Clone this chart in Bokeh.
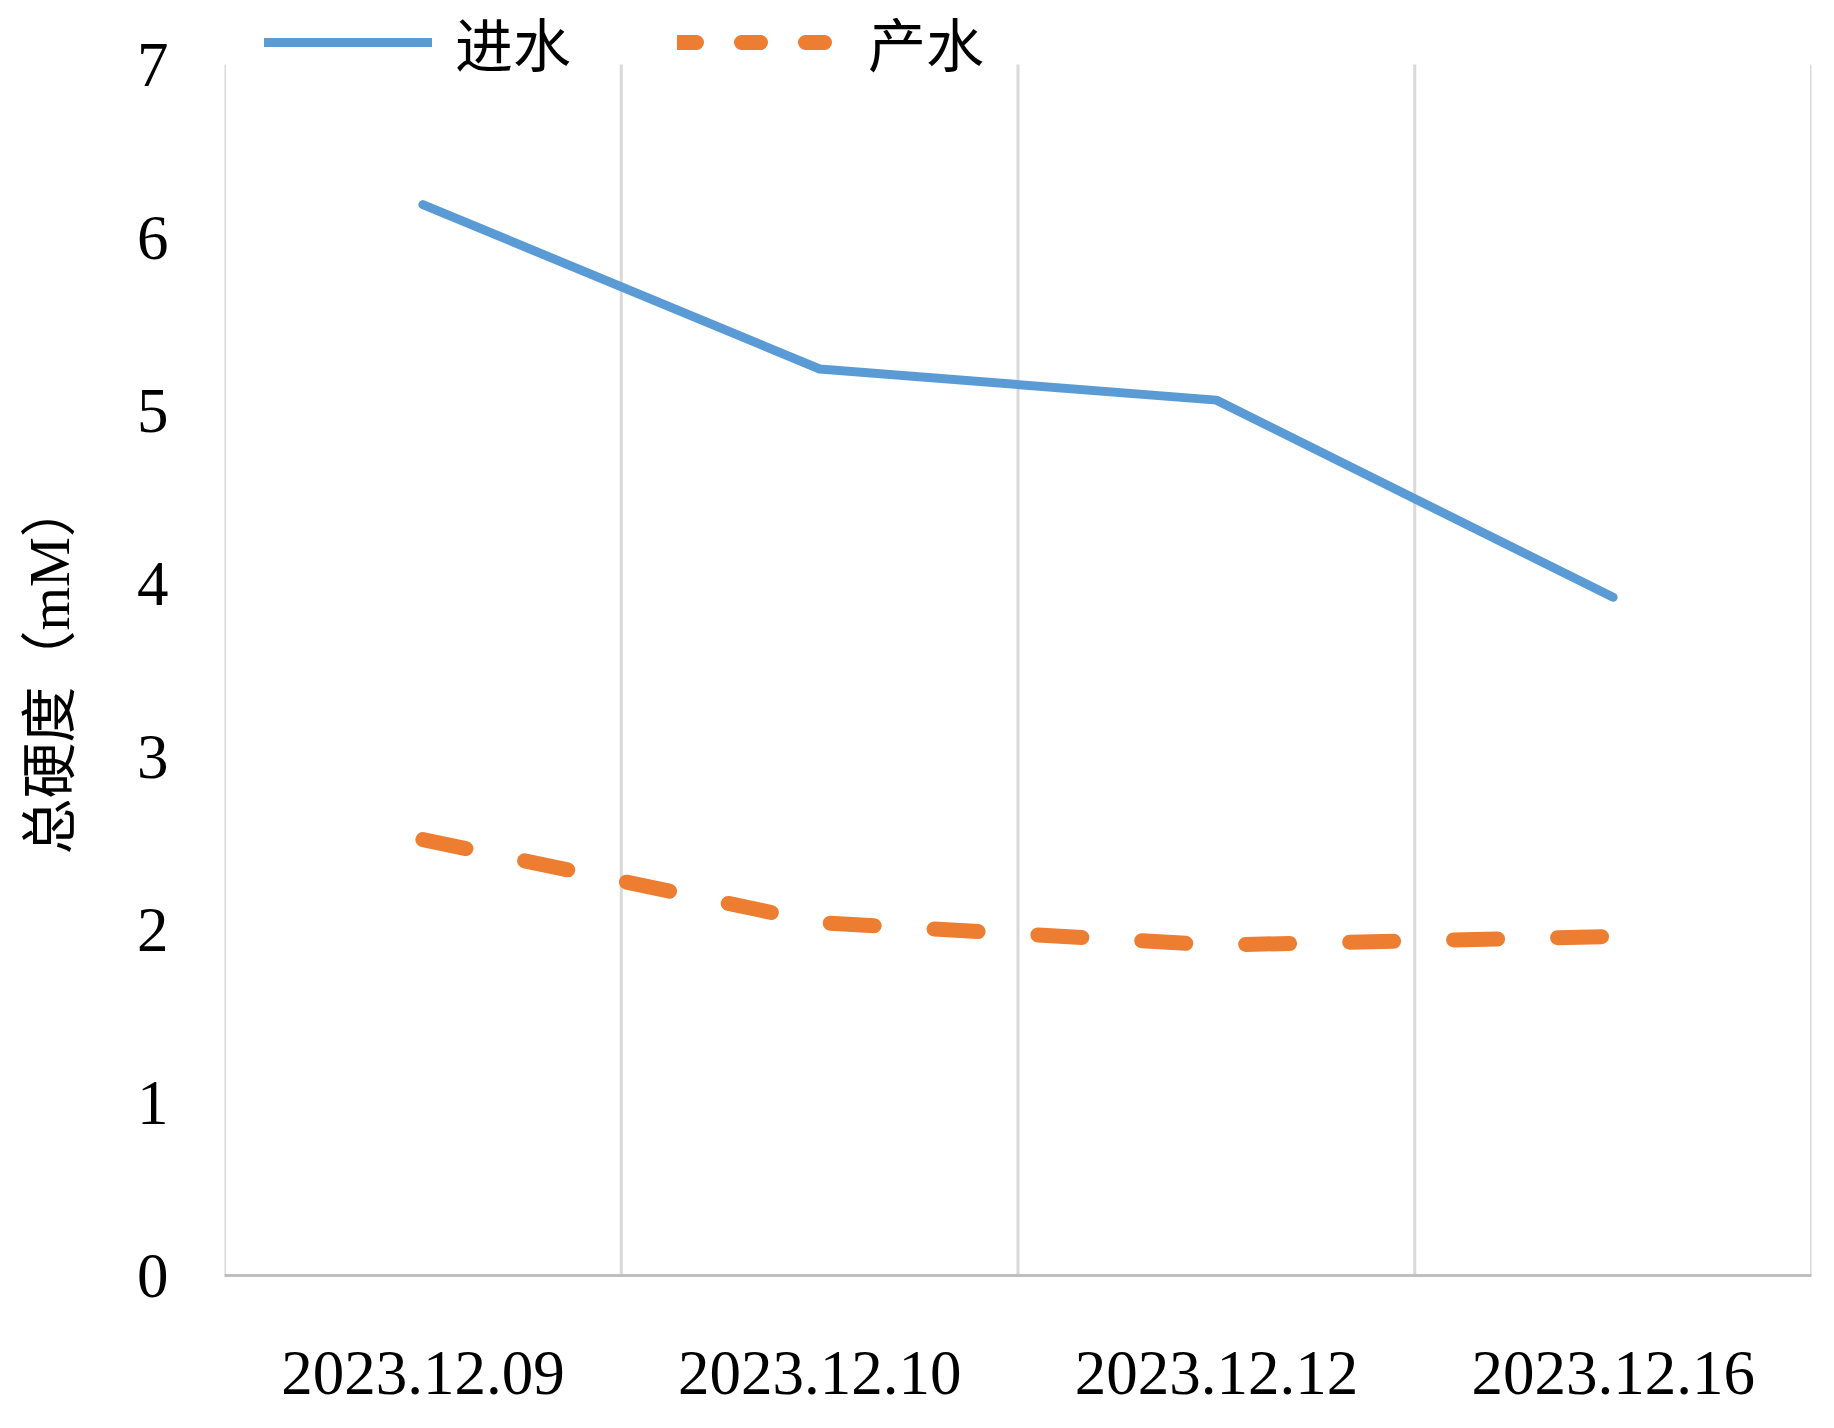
from bokeh.plotting import figure
from bokeh.models import Range1d, FixedTicker, Legend, LegendItem, Title
from bokeh.embed import file_html
from bokeh.resources import INLINE

dates = ["2023.12.09", "2023.12.10", "2023.12.12", "2023.12.16"]
influent = [6.19, 5.24, 5.06, 3.92]
permeate = [2.52, 2.04, 1.91, 1.96]
y_ticks = [0, 1, 2, 3, 4, 5, 6, 7]
series_names = ["进水", "产水"]
y_title = "总硬度（mM）"

n = len(dates)
x = [i + 0.5 for i in range(n)]
bounds = list(range(n + 1))

# frame extends to the top of the figure so the legend can sit above the value 7
FRAME_TOP = 64
FRAME_BOTTOM = 1275
y_end = y_ticks[-1] * FRAME_BOTTOM / (FRAME_BOTTOM - FRAME_TOP)

p = figure(width=1818, height=1412, output_backend="svg", toolbar_location=None,
           x_range=Range1d(0, n), y_range=Range1d(y_ticks[0], y_end),
           min_border_left=224, min_border_right=7, min_border_top=0, min_border_bottom=137)
p.outline_line_color = None
p.background_fill_color = "white"
p.border_fill_color = "white"
p.xgrid.grid_line_color = None
p.ygrid.grid_line_color = None

# category boundary lines
p.segment(x0=bounds, y0=[y_ticks[0]] * len(bounds), x1=bounds, y1=[y_ticks[-1]] * len(bounds),
          line_color="#d9d9d9", line_width=3)

r1 = p.line(x, influent, line_color="#5b9bd5", line_width=9, line_cap="round", line_join="round")
r2 = p.line(x, permeate, line_color="#ed7d31", line_width=15, line_dash="44 60",
            line_cap="round", line_join="round")
# legend-only copy of the permeate series with Excel's shorter legend dash
r2_leg = p.line(x, permeate, line_color="#ed7d31", line_width=15, line_dash="19 45",
                line_cap="round", visible=False)

# x axis
p.xaxis.ticker = FixedTicker(ticks=x)
p.xaxis.major_label_overrides = {xi: d for xi, d in zip(x, dates)}
p.xaxis.major_tick_line_color = None
p.xaxis.minor_tick_line_color = None
p.xaxis.major_tick_out = 0
p.xaxis.major_label_standoff = 76
p.xaxis.major_label_text_font = "Liberation Serif"
p.xaxis.major_label_text_font_size = "63px"
p.xaxis.major_label_text_color = "black"
p.xaxis.axis_line_color = "#bfbfbf"
p.xaxis.axis_line_width = 3

# y axis
p.yaxis.ticker = FixedTicker(ticks=y_ticks)
p.yaxis.major_tick_line_color = None
p.yaxis.minor_tick_line_color = None
p.yaxis.major_tick_out = 0
p.yaxis.axis_line_color = None
p.yaxis.major_label_standoff = 56
p.yaxis.major_label_text_font = "Liberation Serif"
p.yaxis.major_label_text_font_size = "63px"
p.yaxis.major_label_text_color = "black"

# spacer between tick labels and the axis title
spacer = Title(text=" ", standoff=50, text_font_size="1px")
p.add_layout(spacer, "left")
ytitle = Title(text=y_title, align="left", offset=421, standoff=0,
               text_font="Liberation Serif, Noto Sans CJK SC", text_font_style="normal",
               text_font_size="56px", text_color="black")
p.add_layout(ytitle, "left")

legend = Legend(items=[LegendItem(label=series_names[0], renderers=[r1]),
                       LegendItem(label=series_names[1], renderers=[r2_leg])],
                location=(40, FRAME_BOTTOM - 42 - 42), orientation="horizontal",
                glyph_width=168, glyph_height=84, label_height=84, label_standoff=23,
                spacing=106, padding=0, margin=0,
                border_line_color=None, background_fill_alpha=0,
                label_text_font="Noto Sans CJK SC", label_text_font_size="58px",
                label_text_color="black")
p.add_layout(legend)

open("out.html", "w").write(file_html(p, INLINE))
